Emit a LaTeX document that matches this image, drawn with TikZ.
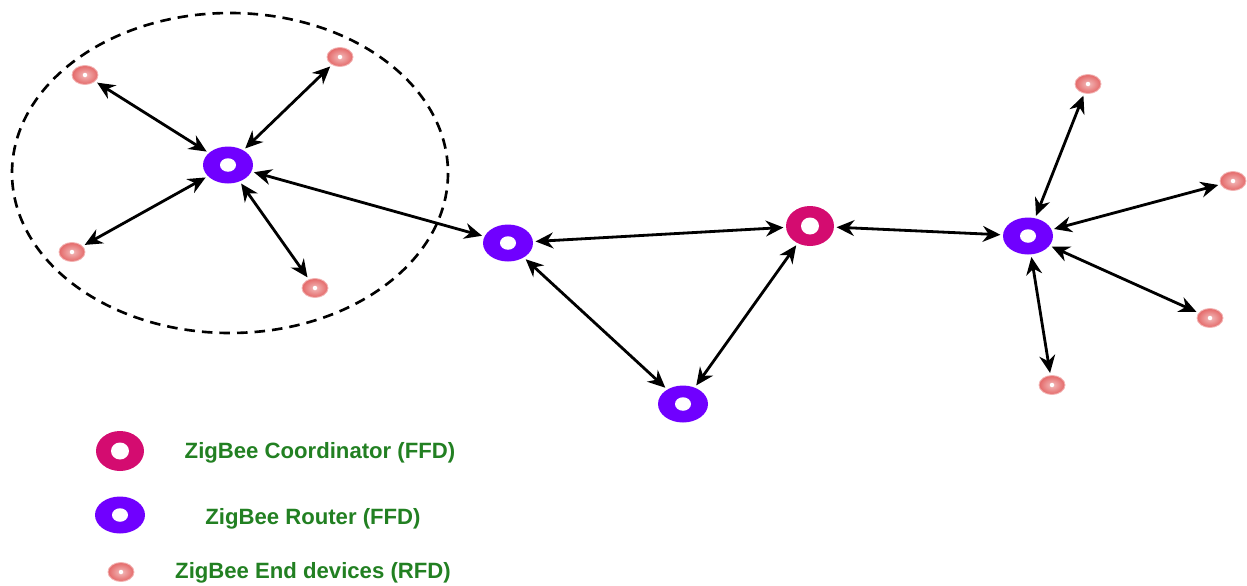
\documentclass[tikz,border=0pt]{standalone}
\usepackage{fontspec}
\setsansfont{Liberation Sans}
\usetikzlibrary{
  arrows.meta,
  positioning,
  shapes.geometric
}
\definecolor{coord}{RGB}{212,12,112}
\definecolor{router}{RGB}{112,0,255}
\definecolor{enddev}{RGB}{228,104,104}
\definecolor{legend}{RGB}{34,128,34}

\begin{document}
\begin{tikzpicture}[
  x=0.02cm, y=-0.02cm,
  every node/.style={font=\sffamily\bfseries},
  rtr/.style={ellipse, fill=router, minimum width=1.0cm, minimum height=0.74cm,
              inner sep=0pt, outer sep=1.5pt,
              path picture={\fill[white] (path picture bounding box.center)
                ellipse (0.16cm and 0.135cm);}},
  crd/.style={ellipse, fill=coord, minimum width=0.96cm, minimum height=0.8cm,
              inner sep=0pt, outer sep=1.5pt,
              path picture={\fill[white] (path picture bounding box.center)
                ellipse (0.18cm and 0.17cm);}},
  dev/.style={ellipse, inner color=enddev!45!white, outer color=enddev,
              draw=enddev!50!white, line width=0.5pt,
              minimum width=0.52cm, minimum height=0.38cm,
              inner sep=0pt, outer sep=1.5pt,
              path picture={\fill[white] (path picture bounding box.center)
                circle (0.045cm);}},
  link/.style={<->, line width=1.6pt, black,
               >={Stealth[length=10pt, width=9pt]}},
  lbl/.style={text=legend, font=\sffamily\bfseries\fontsize{12.6}{14}\selectfont}
]
\useasboundingbox (0,0) rectangle (1247,585);

% ── Left cluster ──
\draw[line width=1.5pt, dash pattern=on 6pt off 4pt] (230,173) ellipse (218 and 160);
\node[rtr] (ra) at (228,165) {};
\node[dev] (a1) at (85,75)   {};
\node[dev] (a2) at (340,57)  {};
\node[dev] (a3) at (72,252)  {};
\node[dev] (a4) at (315,288) {};

% ── Middle ──
\node[rtr] (rb) at (508,243) {};
\node[rtr] (rc) at (683,404) {};
\node[crd] (co) at (810,226) {};

% ── Right cluster ──
\node[rtr] (rd) at (1028,236) {};
\node[dev] (d1) at (1088,84)  {};
\node[dev] (d2) at (1233,181) {};
\node[dev] (d3) at (1210,318) {};
\node[dev] (d4) at (1052,385) {};

% ── Links ──
\foreach \e in {a1,a2,a3,a4}
  \draw[link] (ra) -- (\e);
\draw[link] (ra) -- (rb);
\draw[link] (rb) -- (co);
\draw[link] (rb) -- (rc);
\draw[link] (rc) -- (co);
\draw[link] (co) -- (rd);
\foreach \e in {d1,d2,d3,d4}
  \draw[link] (rd) -- (\e);

% ── Legend ──
\node[crd] (lgco) at (120,451) {};
\node[rtr] (lgrt) at (120,515) {};
\node[dev] (lgdv) at (121,572) {};
\node[lbl] (txco) at (320,453) {ZigBee Coordinator (FFD)};
\node[lbl] (txrt) at (313,519) {ZigBee Router (FFD)};
\node[lbl] (txdv) at (313,573) {ZigBee End devices (RFD)};

\end{tikzpicture}
\end{document}
